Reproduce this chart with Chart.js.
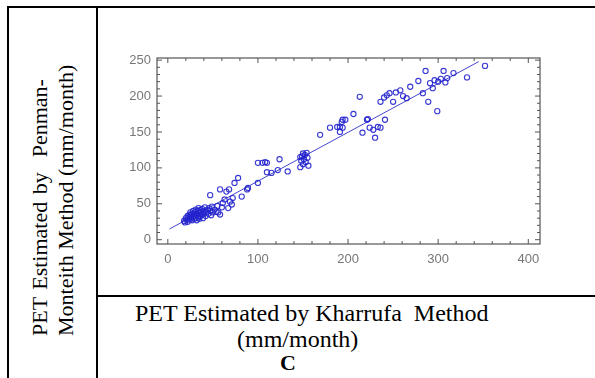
<!DOCTYPE html>
<html>
<head>
<meta charset="utf-8">
<script src="https://cdn.jsdelivr.net/npm/chart.js@4/dist/chart.umd.min.js"></script>
<style>
  html, body { margin: 0; padding: 0; background: #fff; }
  body { width: 595px; height: 378px; position: relative; overflow: hidden; }
  .rule { position: absolute; background: #000; }
  .txt { position: absolute; font-family: "Liberation Serif", "Times New Roman", serif; color: #000; white-space: pre; }
  #ylab { left: 27px; top: 336px; font-size: 22px; line-height: 26px;
          transform-origin: 0 0; transform: rotate(-90deg); }
  #ylab .l1 { word-spacing: 2px; }
  #plotBox { position: absolute; left: 98px; top: 8px; width: 497px; height: 287px; }
  #plotBox canvas { filter: blur(0.5px); }
</style>
</head>
<body>
<!-- table rules -->
<div class="rule" style="left:7px;top:6px;width:588px;height:2px"></div>
<div class="rule" style="left:7px;top:6px;width:2px;height:372px"></div>
<div class="rule" style="left:96px;top:6px;width:2px;height:372px"></div>
<div class="rule" style="left:96px;top:295px;width:499px;height:2px"></div>

<div class="txt" id="ylab"><div class="l1">PET Estimated by  Penman-</div><div>Monteith Method (mm/month)</div></div>

<div class="txt" style="left:135px;top:300px;font-size:24px;line-height:26px">PET Estimated by Kharrufa  Method</div>
<div class="txt" style="left:237px;top:326px;font-size:24px;line-height:26px">(mm/month)</div>
<div class="txt" style="left:280px;top:350px;font-size:22px;line-height:26px;font-weight:bold">C</div>

<div id="plotBox"><canvas id="c" width="497" height="287"></canvas></div>

<script>
// Monthly PET pairs: Kharrufa estimate (x) vs Penman-Monteith estimate (y), mm/month
const kharrufaPET = [
  18,20,21,22,22,23,24,24,25,25,26,26,27,27,28,28,29,29,30,30,31,31,32,32,33,33,34,34,35,35,
  36,36,37,38,38,39,40,40,41,42,43,44,45,46,47,48,49,50,52,19,
  47,54,58,58,61,63,65,67,68,69,71,74,78,82,88,89,100,55,60,72,56,
  100,105,108,110,124,110,115,122,133,147,148,149,150,151,152,153,155,156,147,154,150,
  169,180,188,191,194,191,194,197,193,206,213,
  216,221,222,224,228,230,233,236,241,236,240,243,246,250,253,258,261,265,269,
  278,283,286,289,291,294,296,299,300,303,306,308,310,317,332,352
];
const penmanPET = [
  26,30,28,33,25,31,35,28,32,38,30,34,27,36,32,40,29,35,33,38,30,42,36,27,34,40,31,44,37,29,
  41,33,38,35,43,30,40,36,45,33,38,42,36,44,40,34,46,38,42,24,
  62,39,35,70,51,56,67,44,70,53,49,79,86,60,70,72,79,47,45,58,38,
  107,107,108,107,112,94,93,97,95,101,110,116,105,112,118,108,114,103,115,121,120,
  146,156,157,157,167,150,156,167,164,175,199,
  149,167,168,156,153,142,157,156,167,192,198,201,204,192,205,208,200,197,213,
  221,204,235,192,218,211,222,179,220,224,235,219,225,232,226,242
];
// fitted line end points
const fitX = [2, 345];
const fitY = [15, 248];

// axis ticks
const xTickValues = [0, 100, 200, 300, 400];
const yTickValues = [0, 50, 100, 150, 200, 250];

const points = kharrufaPET.map((x, i) => ({ x: x, y: penmanPET[i] }));
const fitLine = fitX.map((x, i) => ({ x: x, y: fitY[i] }));

const X_MIN = -12, X_MAX = 413, Y_MIN = -6, Y_MAX = 253;
const X_MINOR = 20, Y_MINOR = 10;

// frame around the plot with inward ticks on all four sides
const frameTicks = {
  id: 'frameTicks',
  beforeDatasetsDraw(chart) {
    const { ctx, chartArea: a, scales } = chart;
    const xs = scales.x, ys = scales.y;
    ctx.save();
    ctx.strokeStyle = '#555';
    ctx.lineWidth = 1.2;
    ctx.strokeRect(a.left, a.top, a.right - a.left, a.bottom - a.top);
    ctx.lineWidth = 1;
    ctx.beginPath();
    for (let v = 0; v <= X_MAX; v += X_MINOR) {
      const px = xs.getPixelForValue(v);
      const len = (v % 100 === 0) ? 5 : 3;
      ctx.moveTo(px, a.bottom); ctx.lineTo(px, a.bottom - len);
      ctx.moveTo(px, a.top); ctx.lineTo(px, a.top + len);
    }
    for (let v = 0; v <= Y_MAX; v += Y_MINOR) {
      const py = ys.getPixelForValue(v);
      const len = (v % 50 === 0) ? 5 : 3;
      ctx.moveTo(a.left, py); ctx.lineTo(a.left + len, py);
      ctx.moveTo(a.right, py); ctx.lineTo(a.right - len, py);
    }
    ctx.stroke();
    ctx.restore();
  }
};

new Chart(document.getElementById('c'), {
  type: 'scatter',
  data: {
    datasets: [
      {
        type: 'line',
        data: fitLine,
        borderColor: 'rgba(50,50,200,0.9)',
        borderWidth: 1,
        pointRadius: 0,
        fill: false,
        order: 2
      },
      {
        data: points,
        pointStyle: 'circle',
        pointRadius: 2.6,
        pointBorderWidth: 1.1,
        pointBackgroundColor: 'rgba(255,255,255,0)',
        pointBorderColor: 'rgba(35,35,205,0.9)',
        order: 1
      }
    ]
  },
  options: {
    responsive: false,
    animation: false,
    layout: { padding: { left: 0, top: 50, right: 55, bottom: 0 } },
    plugins: { legend: { display: false }, tooltip: { enabled: false } },
    scales: {
      x: {
        type: 'linear',
        min: X_MIN, max: X_MAX,
        afterBuildTicks(s) { s.ticks = xTickValues.map(v => ({ value: v })); },
        afterFit(s) { s.height = 51; },
        grid: { display: false, drawTicks: false },
        border: { display: false },
        ticks: { color: '#777', padding: 8, font: { family: 'Liberation Sans', size: 13 }, maxRotation: 0 }
      },
      y: {
        type: 'linear',
        min: Y_MIN, max: Y_MAX,
        afterBuildTicks(s) { s.ticks = yTickValues.map(v => ({ value: v })); },
        afterFit(s) { s.width = 59; },
        grid: { display: false, drawTicks: false },
        border: { display: false },
        ticks: { color: '#777', padding: 6, font: { family: 'Liberation Sans', size: 13 } }
      }
    }
  },
  plugins: [frameTicks]
});
</script>
</body>
</html>
